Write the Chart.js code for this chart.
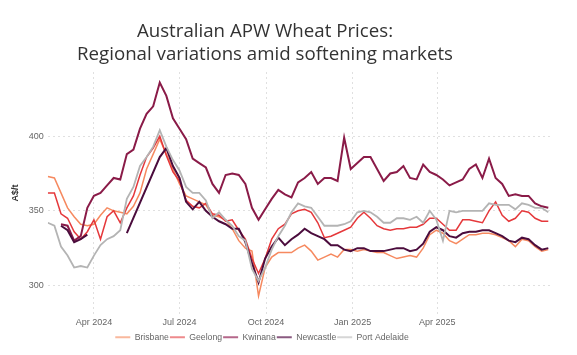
<!DOCTYPE html>
<html>
<head>
<meta charset="utf-8">
<script src="https://cdn.jsdelivr.net/npm/chart.js@4.4.1/dist/chart.umd.min.js"></script>
<style>
  html, body { margin: 0; padding: 0; background: #ffffff; }
  #wrap { width: 577px; height: 355px; position: relative; }
</style>
</head>
<body>
<div id="wrap"><canvas id="c" width="577" height="355"></canvas></div>
<script>
// Weekly observation dates (Mondays), 12 Feb 2024 to 28 Jul 2025
const firstWeek = [2024, 1, 12];
const weekCount = 77;
const dates = [];
for (let k = 0; k < weekCount; k++) {
  const d = new Date(Date.UTC(firstWeek[0], firstWeek[1], firstWeek[2] + 7 * k));
  dates.push(d.toISOString().slice(0, 10));
}

const brisbane = [373,372,362,352,346,341,340,341,347,352,350,349,348,
  353,362,378,388,398,388,378,368,360,358,356,354,347,346,344,
  338,330,325,323,293,312,319,322,322,322,325,327,323,317,319,321,319,324,324,323,324,323,322,322,
  320,318,319,320,319,325,334,337,335,330,328,331,334,334,335,335,334,332,330,326,331,330,326,323,324];

const geelong = [362,362,348,345,336,331,336,344,331,346,350,342,352,
  360,374,386,392,400,387,376,370,357,353,352,355,348,
  347,343,344,337,331,318,308,318,331,338,341,348,350,351,349,342,332,333,335,337,339,345,349,345,340,338,
  337,338,338,339,339,341,345,345,341,337,337,344,344,343,342,350,356,347,343,345,350,349,345,343,343];

const kwinana = [null,null,341,340,330,333,352,360,362,367,372,371,388,
  391,405,415,420,436,427,412,405,398,385,382,379,368,362,374,
  375,374,368,352,344,351,358,364,361,359,369,372,376,368,372,372,370,399,378,382,386,386,378,370,
  375,376,380,372,371,381,376,374,371,367,369,371,378,381,372,385,372,368,360,361,360,360,355,353,352];

const newcastle = [null,null,340,337,329,331,334,null,null,null,null,null,335,
  null,null,null,null,386,392,380,372,356,351,356,350,346,343,341,
  338,338,329,315,302,318,326,332,327,331,334,338,335,333,331,327,327,324,323,325,325,323,323,323,
  324,325,325,323,324,328,336,339,337,333,332,335,336,336,337,337,335,333,330,329,332,331,327,324,325];

const portAdelaide = [342,340,326,320,312,313,312,320,327,331,333,337,358,
  366,380,386,393,404,393,384,377,366,362,362,357,345,349,344,
  340,333,330,311,303,312,324,333,340,349,355,353,352,346,340,340,340,341,343,349,350,349,346,342,
  342,345,345,344,346,342,350,344,330,350,349,350,350,350,350,355,354,354,354,351,355,354,352,352,349];

const seriesNames = ['Brisbane', 'Geelong', 'Kwinana', 'Newcastle', 'Port Adelaide'];
const seriesValues = [brisbane, geelong, kwinana, newcastle, portAdelaide];
const seriesColors = ['#f6895f', '#e5383b', '#8a1b48', '#4b0c3d', '#b4b4b4'];
const legendColors = ['#f9b89d', '#ee8a8c', '#b5678a', '#8a5a80', '#d6d6d6'];
const seriesWidths = [1.5, 1.5, 2, 2, 1.8];

const titleLines = ['Australian APW Wheat Prices:', 'Regional variations amid softening markets'];
const xTickDates = ['2024-04-01', '2024-07-01', '2024-10-01', '2025-01-01', '2025-04-01'];
const xTickLabels = ['Apr 2024', 'Jul 2024', 'Oct 2024', 'Jan 2025', 'Apr 2025'];
const yTicks = [300, 350, 400];
const xRange = ['2024-02-12', '2025-08-02'];
const yRange = [281, 443];
const yAxisTitle = 'A$/t';

function dayNum(s) {
  const p = s.split('-').map(Number);
  return Date.UTC(p[0], p[1] - 1, p[2]) / 86400000;
}

const datasets = seriesNames.map((name, i) => ({
  label: name,
  data: dates.map((d, k) => ({ x: dayNum(d), y: seriesValues[i][k] })).filter(p => p.y !== null),
  borderColor: seriesColors[i],
  backgroundColor: seriesColors[i],
  borderWidth: seriesWidths[i],
  pointRadius: 0,
  tension: 0,
  spanGaps: 36,
  order: seriesNames.length - i
}));

const tickDays = xTickDates.map(dayNum);

// Title drawn centred above the plot; legend re-centred to match
const TITLE_CENTER_X = 265;
const LEGEND_CENTER_X = 262;
const titleAndLegendPlugin = {
  id: 'titleAndLegend',
  afterLayout(chart) {
    const lg = chart.legend;
    if (lg) {
      const shift = LEGEND_CENTER_X - (lg.left + lg.right) / 2;
      lg.left += shift;
      lg.right += shift;
    }
  },
  afterDraw(chart) {
    const ctx = chart.ctx;
    ctx.save();
    ctx.font = '400 18.7px "Open Sans"';
    ctx.fillStyle = '#333333';
    ctx.textAlign = 'center';
    ctx.textBaseline = 'alphabetic';
    ctx.fillText(titleLines[0], TITLE_CENTER_X, 36.7);
    ctx.fillText(titleLines[1], TITLE_CENTER_X, 59.5);
    ctx.restore();
  }
};

new Chart(document.getElementById('c'), {
  type: 'line',
  data: { datasets },
  plugins: [titleAndLegendPlugin],
  options: {
    responsive: false,
    animation: false,
    devicePixelRatio: 1,
    layout: { padding: { left: 10, right: 24, top: 72, bottom: 3.5 } },
    plugins: {
      title: { display: false },
      legend: {
        position: 'bottom',
        labels: {
          usePointStyle: true,
          pointStyle: 'line',
          pointStyleWidth: 15,
          boxHeight: 9,
          padding: 1,
          color: '#666666',
          font: { family: 'Liberation Sans', size: 8.7 },
          sort: (a, b) => a.datasetIndex - b.datasetIndex,
          generateLabels: (chart) => {
            const items = Chart.defaults.plugins.legend.labels.generateLabels(chart);
            items.forEach(it => {
              it.strokeStyle = legendColors[it.datasetIndex];
              it.fillStyle = legendColors[it.datasetIndex];
              it.lineWidth = 2;
            });
            return items;
          }
        }
      },
      tooltip: { enabled: false }
    },
    scales: {
      x: {
        type: 'linear',
        min: dayNum(xRange[0]),
        max: dayNum(xRange[1]),
        afterBuildTicks: (axis) => { axis.ticks = tickDays.map(v => ({ value: v })); },
        afterFit: (axis) => { axis.height = 18; },
        ticks: {
          autoSkip: false,
          maxRotation: 0,
          padding: 3.5,
          color: '#666666',
          font: { family: 'Liberation Sans', size: 9 },
          callback: (v) => { const i = tickDays.indexOf(v); return i >= 0 ? xTickLabels[i] : ''; }
        },
        grid: { color: '#e0e0e0', drawTicks: false, lineWidth: 1 },
        border: { display: false, dash: [2, 3] }
      },
      y: {
        min: yRange[0],
        max: yRange[1],
        afterBuildTicks: (axis) => { axis.ticks = yTicks.map(v => ({ value: v })); },
        ticks: {
          padding: 4,
          color: '#666666',
          font: { family: 'Liberation Sans', size: 9 }
        },
        title: {
          display: true,
          text: yAxisTitle,
          color: '#333333',
          font: { family: 'Liberation Sans', size: 9, weight: 'bold' },
          padding: { top: 0, bottom: 4 }
        },
        grid: { color: '#e0e0e0', drawTicks: false, lineWidth: 1 },
        border: { display: false, dash: [2, 3] }
      }
    }
  }
});
</script>
</body>
</html>
